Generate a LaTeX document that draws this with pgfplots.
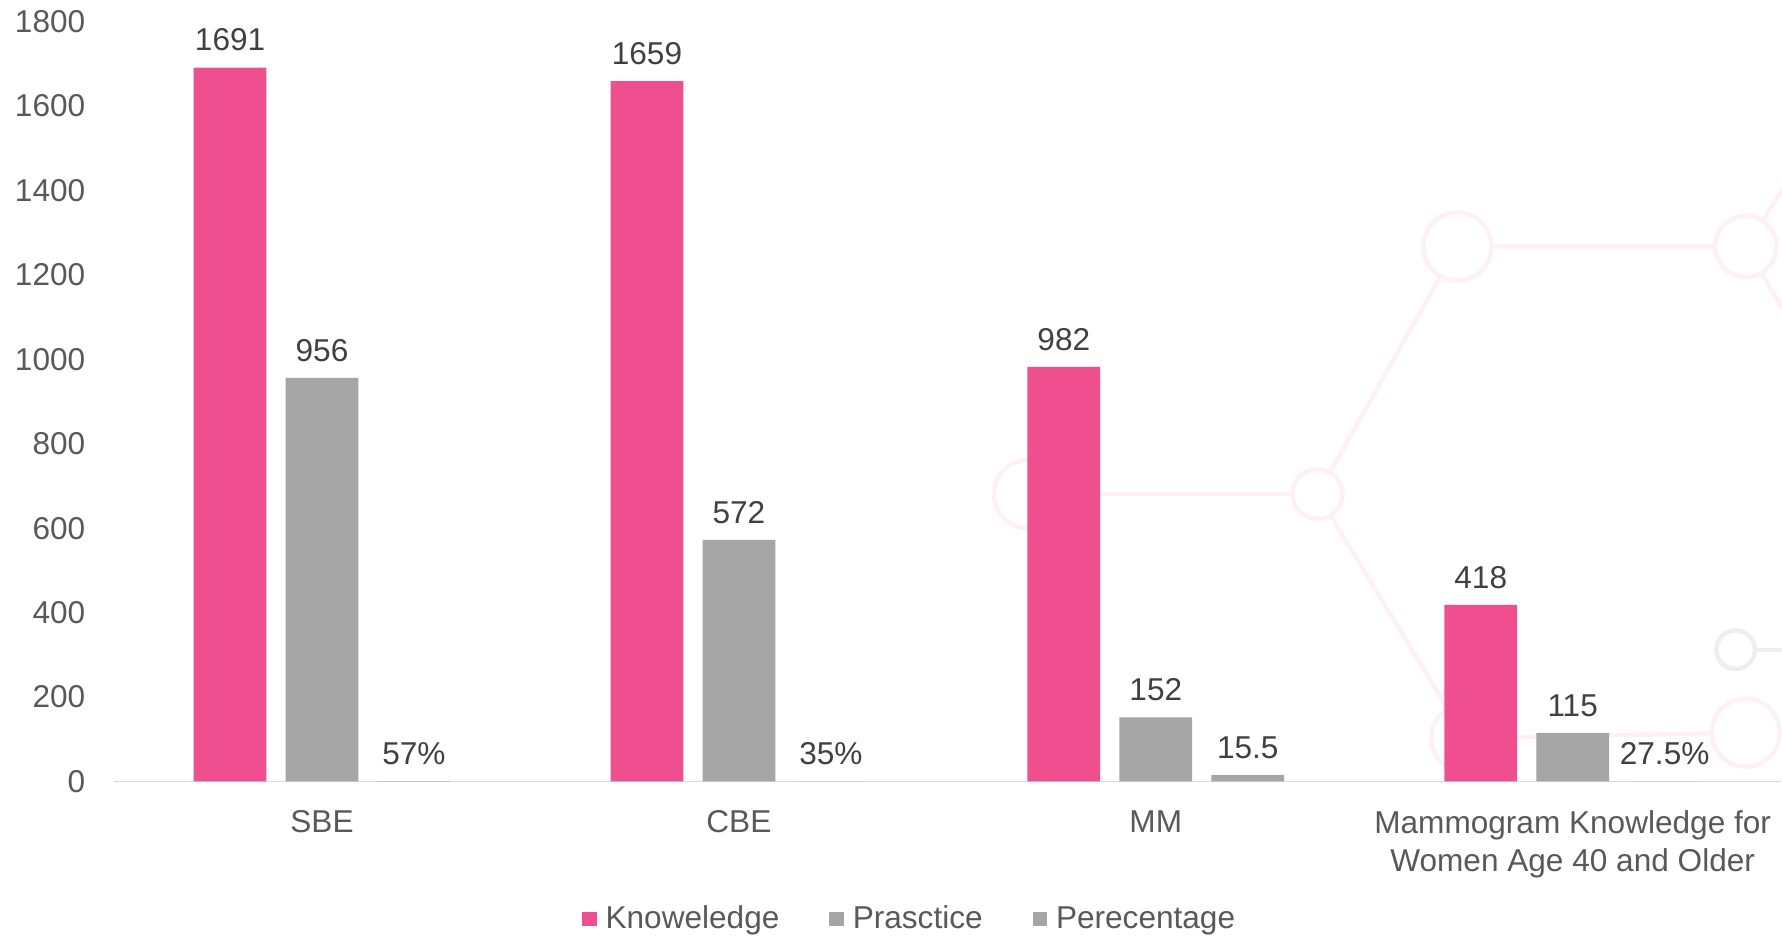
\documentclass[border=0pt]{standalone}
\usepackage{pgfplots}
\pgfplotsset{compat=1.18}
\usepackage{fontspec}
\setmainfont{Liberation Sans}
\definecolor{kpink}{HTML}{EF4F8F}
\definecolor{kgray}{HTML}{A5A5A5}
\definecolor{lab}{HTML}{404040}
\definecolor{tickc}{HTML}{595959}
\definecolor{deco}{RGB}{253,241,245}
\definecolor{decog}{RGB}{238,238,238}
\newcommand{\f}{\fontsize{15.8}{18.8}\selectfont}
\begin{document}
\begin{tikzpicture}
\begin{scope}[x=0.56824pt,y=-0.56824pt,yshift=468.23pt]
\path[use as bounding box] (0,0) rectangle (1568,824);
\begin{scope}[line width=2.2pt, draw=deco]
\draw (1283,217) -- (1537,217);
\draw (1283,217) -- (1160,435);
\draw (1160,435) -- (905,435);
\draw (1160,435) -- (1290,650);
\draw (1290,650) -- (1537,645);
\draw (1537,217) -- (1580,150);
\draw (1537,217) -- (1580,290);
\draw[fill=white] (1283,217) circle (30);
\draw[fill=white] (1537,217) circle (27);
\draw[fill=white] (1160,435) circle (22);
\draw[fill=white] (905,435) circle (30);
\draw[fill=white] (1290,650) circle (30);
\draw[fill=white] (1537,645) circle (30);
\draw[decog] (1528,572) -- (1580,572);
\draw[decog,fill=white] (1528,572) circle (17);
\end{scope}
\coordinate (O) at (100,688);
\end{scope}
\begin{axis}[
  at={(O)}, anchor=south west,
  scale only axis, width=834.2pt, height=380.2pt,
  ybar, bar width=36.4pt,
  xmin=-0.5, xmax=3.5, ymin=0, ymax=1800,
  ytick={0,200,...,1800},
  xtick={0,1,2,3},
  xticklabels={SBE,CBE,MM,{Mammogram Knowledge for\\Women Age 40 and Older}},
  /pgf/number format/assume math mode=true,
  /pgf/number format/1000 sep={},
  axis y line=left,
  y axis line style={draw=none},
  axis x line=bottom,
  x axis line style={draw=black!15, line width=0.9pt, -},
  major tick length=0pt,
  tick style={draw=none},
  yticklabel style={font=\f, color=tickc, anchor=east, inner sep=0pt, xshift=-14pt},
  xticklabel style={font=\f, color=tickc, anchor=north, inner sep=0pt, yshift=-14.5pt, align=center},
  every node near coord/.append style={font=\f, color=lab, anchor=south, inner sep=0pt, yshift=8pt},
  nodes near coords,
  legend columns=3,
  legend style={at={(rel axis cs:0.4768,-0.181)}, anchor=center, draw=none, fill=none,
    font=\f, text=tickc, inner sep=0pt,
    nodes={inner sep=0pt},
    /tikz/every odd column/.append style={column sep=4.5pt},
    /tikz/every even column/.append style={column sep=25pt}},
  legend image code/.code={\fill[#1] (0pt,-3.7pt) rectangle (7.2pt,3.7pt);},
  clip=false,
]
\addplot[fill=kpink, draw=none, bar shift=-46pt] coordinates {(0,1691) (1,1659) (2,982) (3,418)};
\addlegendentry{Knoweledge}
\addplot[fill=kgray, draw=none, bar shift=0pt] coordinates {(0,956) (1,572) (2,152) (3,115)};
\addlegendentry{Prasctice}
\addplot[fill=kgray, draw=none, bar shift=46pt, point meta=explicit symbolic] table[meta=lab] {
x y lab
0 0.57 57\%
1 0.35 35\%
2 15.5 15.5
3 0.275 27.5\%
};
\addlegendentry{Perecentage}
\end{axis}
\end{tikzpicture}
\end{document}
